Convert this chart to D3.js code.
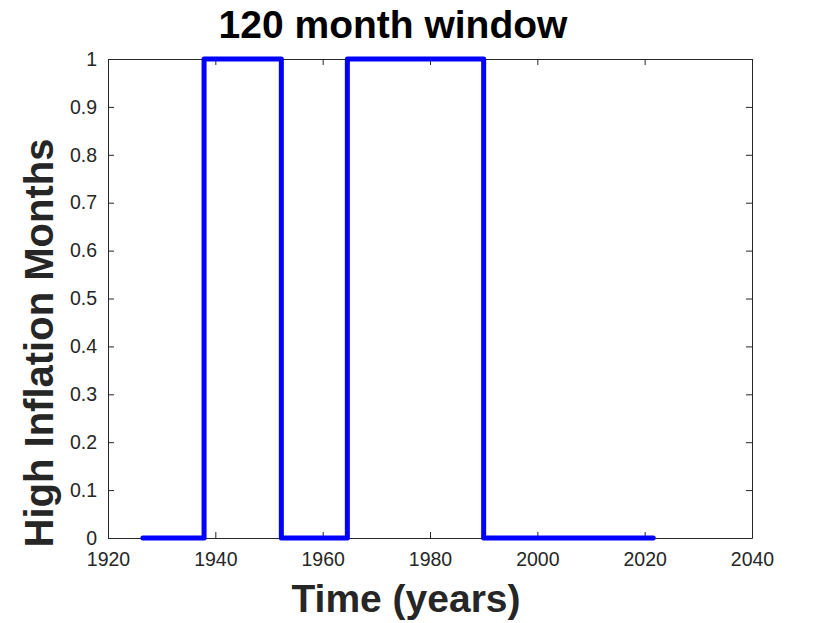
<!DOCTYPE html>
<html>
<head>
<meta charset="utf-8">
<script src="https://cdn.jsdelivr.net/npm/d3@7/dist/d3.min.js"></script>
<style>
  html, body { margin: 0; padding: 0; background: #fff; }
  svg { display: block; }
  text { font-family: "Liberation Sans", Arial, Helvetica, sans-serif; }
</style>
</head>
<body>
<svg id="chart" width="830" height="623"></svg>
<script>
// Data: step transition times (years) and the value taken from each time onward
const times  = [1926.5, 1937.9, 1952.3, 1964.6, 1990.0, 2021.6];
const values = [0, 1, 0, 1, 0, 0];
const xTicks = [1920, 1940, 1960, 1980, 2000, 2020, 2040];
const yTicks = [0, 0.1, 0.2, 0.3, 0.4, 0.5, 0.6, 0.7, 0.8, 0.9, 1];
const titleText = "120 month window";
const xLabelText = "Time (years)";
const yLabelText = "High Inflation Months";

const svg = d3.select("#chart");
const L = 108, R = 752, T = 59, B = 538;
const axisColor = "#262626";

const x = d3.scaleLinear().domain([1920, 2040]).range([L, R]);
const y = d3.scaleLinear().domain([0, 1]).range([B, T]);

const tickLen = 6;

const gx = svg.append("g").attr("transform", `translate(0,${B})`)
  .call(d3.axisBottom(x).tickValues(xTicks).tickFormat(d3.format("d")).tickSizeInner(-tickLen).tickSizeOuter(0).tickPadding(14));
const gxt = svg.append("g").attr("transform", `translate(0,${T})`)
  .call(d3.axisTop(x).tickValues(xTicks).tickFormat("").tickSizeInner(-tickLen).tickSizeOuter(0));
const gy = svg.append("g").attr("transform", `translate(${L},0)`)
  .call(d3.axisLeft(y).tickValues(yTicks).tickFormat(d => d === 0 ? "0" : d === 1 ? "1" : d3.format(".1f")(d)).tickSizeInner(-tickLen).tickSizeOuter(0).tickPadding(11));
const gyr = svg.append("g").attr("transform", `translate(${R},0)`)
  .call(d3.axisRight(y).tickValues(yTicks).tickFormat("").tickSizeInner(-tickLen).tickSizeOuter(0));

[gx, gxt, gy, gyr].forEach(g => {
  g.select(".domain").attr("stroke", axisColor).attr("stroke-width", 1);
  g.selectAll(".tick line").attr("stroke", axisColor).attr("stroke-width", 1);
  g.selectAll(".tick text").attr("fill", axisColor)
    .style("font-family", "'Liberation Sans', Arial, sans-serif").style("font-size", "19.5px");
});

const pts = times.map((t, i) => [t, values[i]]);
const line = d3.line().x(d => x(d[0])).y(d => y(d[1])).curve(d3.curveStepAfter);
svg.append("path")
  .datum(pts)
  .attr("d", line)
  .attr("fill", "none")
  .attr("stroke", "#0000ff")
  .attr("stroke-width", 5)
  .attr("stroke-linejoin", "round")
  .attr("stroke-linecap", "round");

svg.append("text")
  .attr("x", 393).attr("y", 38)
  .attr("text-anchor", "middle")
  .attr("fill", "#000")
  .style("font-size", "39px").style("font-weight", "bold")
  .text(titleText);

svg.append("text")
  .attr("x", 406).attr("y", 612)
  .attr("text-anchor", "middle")
  .attr("fill", axisColor)
  .style("font-size", "39px").style("font-weight", "bold")
  .text(xLabelText);

svg.append("text")
  .attr("transform", `translate(53,343) rotate(-90)`)
  .attr("text-anchor", "middle")
  .attr("fill", axisColor)
  .style("font-size", "40px").style("font-weight", "bold")
  .text(yLabelText);
</script>
</body>
</html>
